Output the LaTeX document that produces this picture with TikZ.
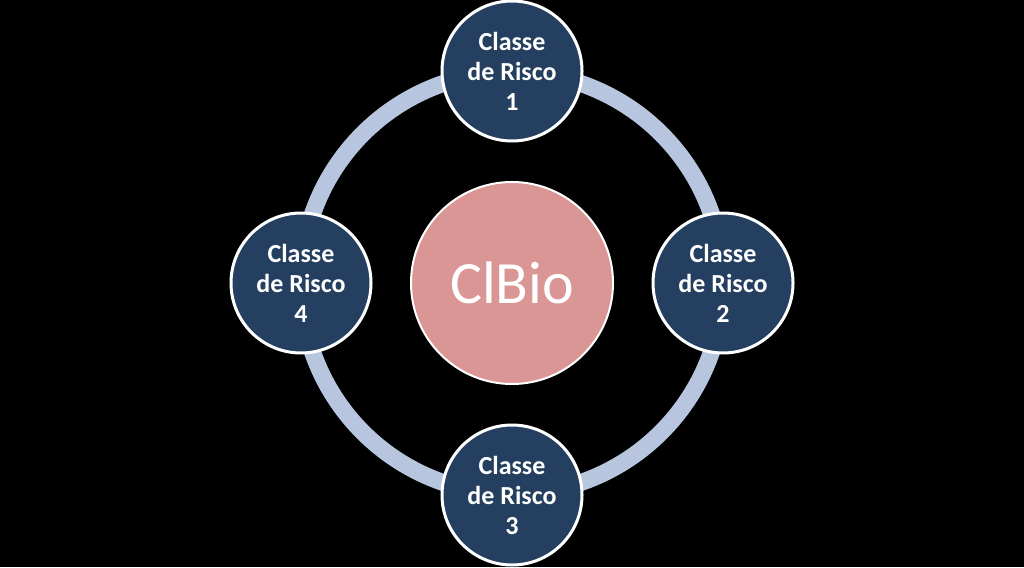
\documentclass[tikz,border=0pt]{standalone}
\usepackage{fontspec}
\setmainfont{Carlito}
\definecolor{navy}{HTML}{243F60}
\definecolor{pinkc}{HTML}{D99694}
\definecolor{ringc}{HTML}{B7C5DF}
\begin{document}
\begin{tikzpicture}[x=1pt,y=-1pt,
  riskbox/.style={circle,fill=navy,draw=white,line width=3pt,minimum size=140pt,inner sep=0pt,
    text=white,font=\bfseries\fontsize{26}{30}\selectfont,align=center},
  hubbox/.style={circle,fill=pinkc,draw=white,line width=2pt,minimum size=202pt,inner sep=0pt,
    text=white,font=\fontsize{60}{70}\selectfont}]
\fill[black] (0,0) rectangle (1024,567);
\useasboundingbox (0,0) rectangle (1024,567);
\coordinate (c) at (512,283);
\draw[ringc,line width=17pt] (c) circle[radius=211];
\node[hubbox] (hub) at (c) {ClBio};
\node[riskbox] (r1) at (512,71) {Classe\\de Risco\\1};
\node[riskbox] (r2) at (723,283) {Classe\\de Risco\\2};
\node[riskbox] (r3) at (512,495) {Classe\\de Risco\\3};
\node[riskbox] (r4) at (301,283) {Classe\\de Risco\\4};
\end{tikzpicture}
\end{document}
